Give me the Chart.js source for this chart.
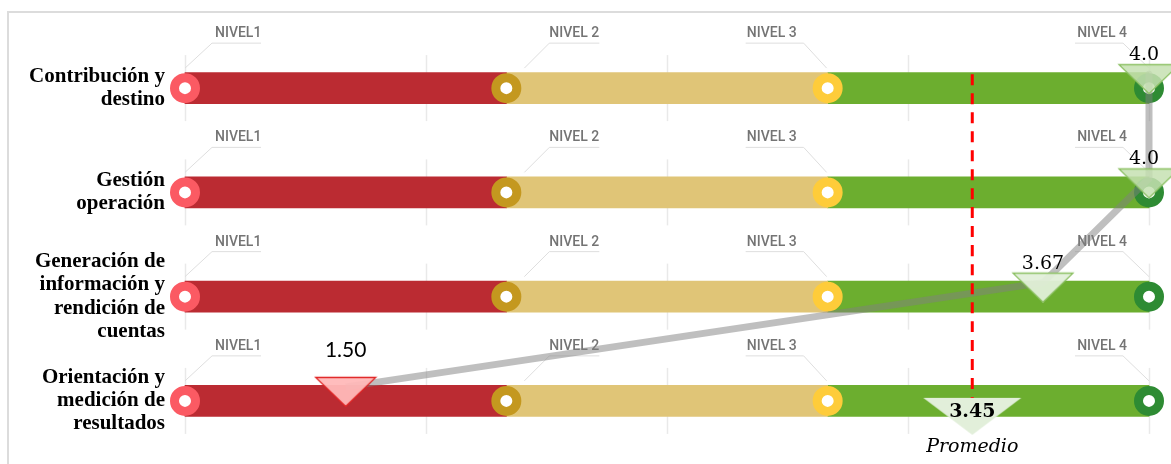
<!DOCTYPE html>
<html><head><meta charset="utf-8">
<script src="https://cdn.jsdelivr.net/npm/chart.js@4.4.1/dist/chart.umd.min.js"></script>
<style>
html,body{margin:0;padding:0;background:#fff;}
#wrap{position:relative;width:1171px;height:464px;overflow:hidden;}
#frame{position:absolute;left:7px;top:11px;width:1300px;height:600px;border:2px solid #dcdcdc;box-sizing:border-box;}
canvas{position:absolute;left:0;top:0;}
</style></head><body>
<div id="wrap"><div id="frame"></div><canvas id="c" width="1171" height="464"></canvas></div>
<script>
// ---- data ----
const categories = [
  ["Contribución y", "destino"],
  ["Gestión", "operación"],
  ["Generación de", "información y", "rendición de", "cuentas"],
  ["Orientación y", "medición de", "resultados"]
];
const levelNames = ["NIVEL1", "NIVEL 2", "NIVEL 3", "NIVEL 4"];
const levelValues = [1, 2, 3, 4];
const scores = [4.0, 4.0, 3.67, 1.50];
const scoreLabels = ["4.0", "4.0", "3.67", "1.50"];
const average = 3.45;
const averageLabel = "3.45";
const averageName = "Promedio";
const gridTicks = [1, 1.75, 2.5, 3.25, 4];

// ---- styles ----
const segColors = ['#bb2b32', '#e0c577', '#6cae2f'];
const ringColors = ['#fb5a63', '#c4981f', '#fecc3a', '#2e8b33'];
const leaderStyle = [
  {lx: 0,  ux: 27,  ex: 76,  tx: 30,  align: 'left'},
  {lx: 18, ux: 43,  ex: 93,  tx: 43,  align: 'left'},
  {lx: -1, ux: -24, ex: -82, tx: -31, align: 'right'},
  {lx: 0,  ux: -26, ex: -74, tx: -22, align: 'right'}
];

function makeTri(w, h, top, fill, stroke, cw, ch) {
  const c = document.createElement('canvas');
  c.width = cw; c.height = ch;
  const g = c.getContext('2d');
  const x0 = (cw - w) / 2;
  g.beginPath();
  g.moveTo(x0, top); g.lineTo(x0 + w, top); g.lineTo(cw / 2, top + h); g.closePath();
  g.fillStyle = fill; g.fill();
  if (stroke) { g.strokeStyle = stroke; g.lineWidth = 1.3; g.stroke(); }
  return c;
}
const triHigh = makeTri(60, 29, 10.5, 'rgba(197,224,178,0.85)', '#8cc063', 64, 40);
const triMid = makeTri(60, 29, 10.5, 'rgba(226,239,217,0.95)', '#8cc063', 64, 40);
const triLow = makeTri(60, 29, 10.5, 'rgba(255,185,185,0.95)', '#e02424', 64, 40);
const triAvg = makeTri(98, 37, 32, '#e2efda', null, 100, 70);
function triFor(v) { return v >= 4 ? triHigh : (v >= 3 ? triMid : triLow); }

const datasets = [];
for (let s = 0; s < levelValues.length - 1; s++) {
  datasets.push({
    type: 'bar', data: categories.map(() => [levelValues[s], levelValues[s + 1]]),
    backgroundColor: segColors[s], barThickness: 31, grouped: false, order: 10,
    clip: false, yAxisID: 'y', borderWidth: 0
  });
}
levelValues.forEach((lv, k) => datasets.push({
  type: 'line', showLine: false, data: categories.map(() => lv), yAxisID: 'y',
  pointRadius: 10.5, pointHoverRadius: 10.5, pointBorderWidth: 9, pointHoverBorderWidth: 9,
  pointBackgroundColor: '#fff', pointBorderColor: ringColors[k], order: 8, clip: false
}));
datasets.push({
  type: 'line', id: 'grayLine', data: scores.map((v, i) => ({x: v, y: i})), yAxisID: 'yL',
  borderColor: 'rgba(128,128,128,0.5)', borderWidth: 7, pointRadius: 0, order: 6, clip: false,
  borderJoinStyle: 'round'
});
datasets.push({
  type: 'line', showLine: false, data: scores.map((v, i) => ({x: v, y: i})), yAxisID: 'yL',
  pointStyle: ctx => triFor(scores[ctx.dataIndex]), pointRadius: 5, pointHoverRadius: 5,
  order: 2, clip: false
});
datasets.push({
  type: 'line', showLine: false, data: [{x: average, y: categories.length - 1}], yAxisID: 'yA',
  pointStyle: triAvg, pointRadius: 5, pointHoverRadius: 5, order: 1, clip: false
});

const deco = {
  id: 'deco',
  beforeDatasetsDraw(chart) {
    const ctx = chart.ctx, xs = chart.scales.x, ys = chart.scales.y;
    ctx.save();
    categories.forEach((c, i) => {
      const cy = ys.getPixelForValue(i);
      ctx.strokeStyle = '#e9e9e9'; ctx.lineWidth = 1.5;
      gridTicks.forEach(g => {
        const x = Math.round(xs.getPixelForValue(g)) + 0.5;
        ctx.beginPath(); ctx.moveTo(x, cy - 33); ctx.lineTo(x, cy + 33); ctx.stroke();
      });
      levelValues.forEach((lv, k) => {
        const px = xs.getPixelForValue(lv), st = leaderStyle[k];
        ctx.strokeStyle = '#dedede'; ctx.lineWidth = 1;
        ctx.beginPath();
        ctx.moveTo(px + st.lx, cy - 20); ctx.lineTo(px + st.ux, cy - 45); ctx.lineTo(px + st.ex, cy - 45);
        ctx.stroke();
        ctx.fillStyle = '#747474';
        ctx.font = '500 14px Roboto';
        ctx.textAlign = st.align; ctx.textBaseline = 'alphabetic';
        ctx.fillText(levelNames[k], px + st.tx, cy - 51);
      });
    });
    ctx.restore();
  },
  afterDatasetDraw(chart, args) {
    const ds = chart.data.datasets[args.index];
    if (ds.id !== 'grayLine') return;
    const ctx = chart.ctx, xs = chart.scales.x, ys = chart.scales.y;
    const x = xs.getPixelForValue(average);
    ctx.save();
    ctx.strokeStyle = '#ff0000'; ctx.lineWidth = 3; ctx.setLineDash([11, 8]);
    ctx.beginPath();
    ctx.moveTo(x, ys.getPixelForValue(0) - 14);
    ctx.lineTo(x, ys.getPixelForValue(categories.length - 1) - 2);
    ctx.stroke();
    ctx.restore();
  },
  afterDatasetsDraw(chart) {
    const ctx = chart.ctx, xs = chart.scales.x, yl = chart.scales.yL, ya = chart.scales.yA;
    ctx.save();
    ctx.fillStyle = '#000'; ctx.textAlign = 'center'; ctx.textBaseline = 'alphabetic';
    scores.forEach((v, i) => {
      const x = xs.getPixelForValue(v), top = yl.getPixelForValue(i) - 10;
      ctx.font = v < 2 ? '21px Lato' : '19px "DejaVu Serif"';
      ctx.fillText(scoreLabels[i], x - (v >= 4 ? 5 : 0), top - (v < 2 ? 20 : 4));
    });
    const ax = xs.getPixelForValue(average), ay = ya.getPixelForValue(categories.length - 1);
    ctx.font = 'bold 19px "DejaVu Serif"';
    ctx.fillText(averageLabel, ax, ay + 16);
    ctx.font = 'italic 19px "DejaVu Serif"';
    ctx.fillText(averageName, ax, ay + 51);
    ctx.restore();
  }
};

new Chart(document.getElementById('c'), {
  data: {labels: categories, datasets},
  options: {
    indexAxis: 'y',
    responsive: false, animation: false, devicePixelRatio: 1,
    layout: {autoPadding: false, padding: {top: 36, bottom: 11, right: 22, left: 0}},
    plugins: {legend: {display: false}, tooltip: {enabled: false}},
    events: [],
    scales: {
      x: {type: 'linear', min: 1, max: 4, display: false, ticks: {display: false}},
      y: {
        type: 'category', position: 'left',
        grid: {display: false, drawTicks: false}, border: {display: false},
        ticks: {autoSkip: false, padding: 20, color: '#000', font: {family: '"Liberation Serif"', size: 21, weight: 'bold', lineHeight: 1.1}},
        afterFit: s => {
          s.width = 185; s.paddingTop = 0; s.paddingBottom = 0;
          s.getPadding = () => ({left: 0, top: 0, right: 0, bottom: 0});
        }
      },
      yL: {type: 'linear', display: false, ticks: {display: false}, min: -0.5 + 0.134, max: 3.5 + 0.134, reverse: true},
      yA: {type: 'linear', display: false, ticks: {display: false}, min: -0.5, max: 3.5, reverse: true}
    }
  },
  plugins: [deco]
});
</script>
</body></html>
